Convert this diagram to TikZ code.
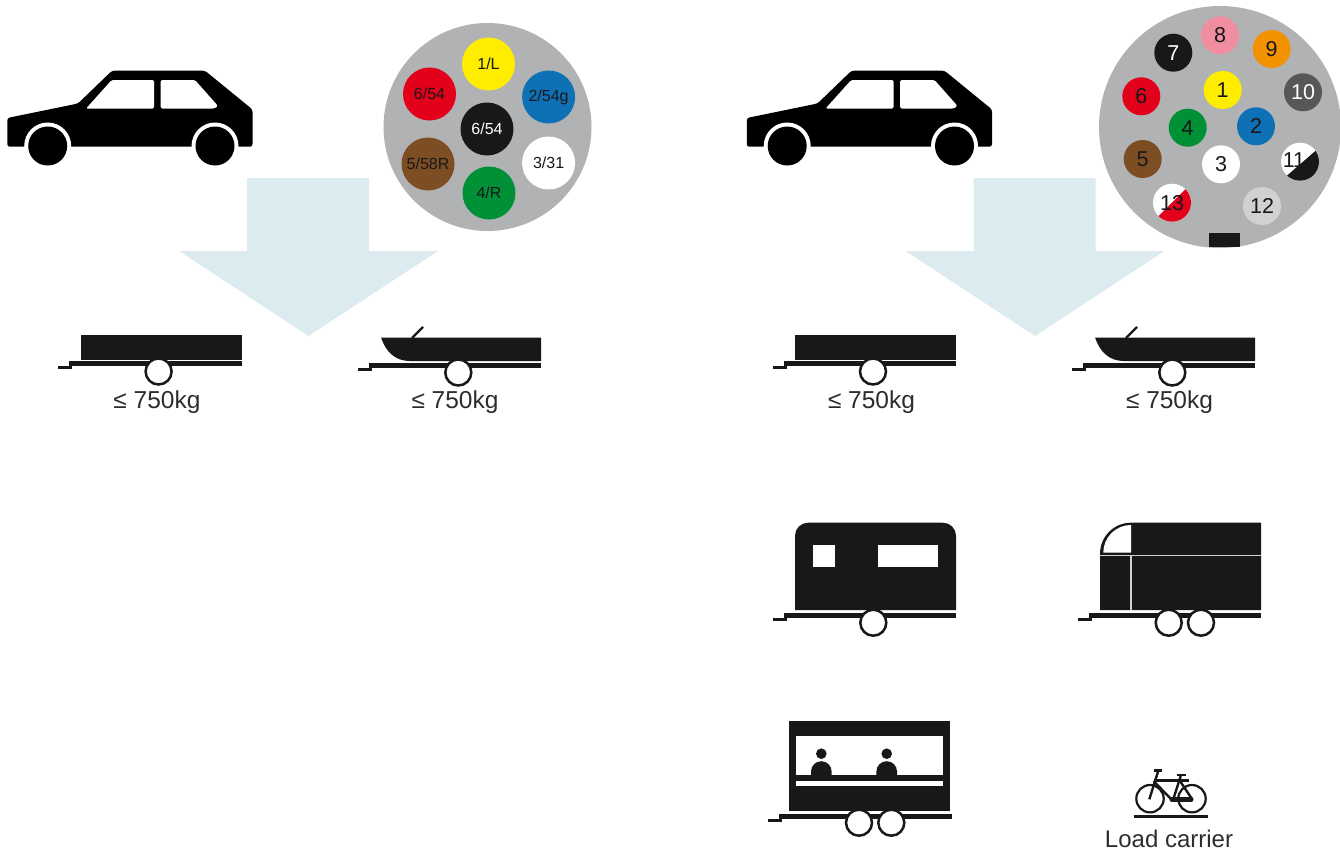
\documentclass[tikz,border=0pt]{standalone}
\usepackage{fontspec}
\setmainfont{Liberation Sans}
\usetikzlibrary{positioning}
\definecolor{myblack}{RGB}{26,23,27}
\definecolor{mytext}{RGB}{45,45,48}
\definecolor{myarrow}{RGB}{220,235,240}
\definecolor{mygrey}{RGB}{177,178,179}
\definecolor{myyellow}{RGB}{255,237,0}
\definecolor{myred}{RGB}{226,0,26}
\definecolor{myblue}{RGB}{15,113,181}
\definecolor{mygreen}{RGB}{0,144,54}
\definecolor{mybrown}{RGB}{125,78,36}
\definecolor{mypink}{RGB}{240,141,160}
\definecolor{myorange}{RGB}{243,146,0}
\definecolor{mydark}{RGB}{87,87,86}
\definecolor{mylight}{RGB}{208,209,211}
\tikzset{
  pinseven/.style={circle, inner sep=0pt, minimum size=53pt, text=myblack,
                   font=\fontsize{16}{18}\selectfont},
  pinthirteen/.style={circle, inner sep=0pt, minimum size=38pt, text=myblack,
                   font=\fontsize{21.5}{24}\selectfont},
  wheel/.style={circle, draw=myblack, fill=white, line width=2.5pt,
                inner sep=0pt, minimum size=26pt},
  weight/.style={text=mytext, inner sep=0pt, font=\fontsize{24.5}{28}\selectfont},
  bikeline/.style={draw=myblack, line width=2.4pt},
  car/.pic={
    \fill[black, rounded corners=2.5pt]
      (7.3,118) -- (78,103.5) -- (112,70.7) -- (205,70.7) -- (252.5,109.5)
      -- (252.5,146.7) -- (7.3,146.7) -- cycle;
    \fill[white, rounded corners=1.5pt]
      (86,108.6) -- (111.7,80) -- (154,80) -- (154,108.6) -- cycle;
    \fill[white, rounded corners=1.5pt]
      (160.7,80) -- (195,80) -- (218,106) -- (214,108.6) -- (160.7,108.6) -- cycle;
    \fill[white] (47.7,146) circle (23.5) (215,146) circle (23.5);
    \fill[black] (47.7,146) circle (19.5) (215,146) circle (19.5);
  },
  bigarrow/.pic={
    \fill[myarrow] (247,178) -- (369,178) -- (369,251) -- (438,251)
      -- (308.5,336) -- (179,251) -- (247,251) -- cycle;
  },
}
% hitch x, top of bar y, end of bar x
\newcommand{\drawchassis}[3]{
  \fill[myblack] (#1,#2+5) rectangle ++(14,3);
  \fill[myblack] (#1+11,#2) rectangle (#1+14,#2+6);
  \fill[myblack] (#1+11,#2) rectangle (#3,#2+5);
}
\begin{document}
\begin{tikzpicture}[x=1pt, y=-1pt]
  \useasboundingbox (0,0) rectangle (1340,851);

  % arrows and cars
  \pic at (0,0) {bigarrow};
  \pic at (726.5,0) {bigarrow};
  \pic at (0,0) {car};
  \pic at (739.5,0) {car};

  % 7 pin plug
  \node[circle, fill=mygrey, inner sep=0pt, minimum size=208pt] (plugseven) at (487.5,127) {};
  \node[pinseven, fill=myyellow] (sL) at (488.5,64) {1/L};
  \node[pinseven, fill=myred] (sa) at (429.5,94) {6/54};
  \node[pinseven, fill=myblue] (sb) at (548.6,97) {2/54g};
  \node[pinseven, fill=myblack, text=white] (sc) at (487,129) {6/54};
  \node[pinseven, fill=mybrown] (sd) at (428,164) {5/58R};
  \node[pinseven, fill=white] (se) at (548.6,163) {3/31};
  \node[pinseven, fill=mygreen] (sf) at (489,193) {4/R};

  % 13 pin plug
  \node[circle, fill=mygrey, inner sep=0pt, minimum size=242pt] (plugthirteen) at (1220,127) {};
  \node[pinthirteen, fill=myyellow] (t1) at (1222.7,90) {1};
  \node[pinthirteen, fill=myblue] (t2) at (1256,126.3) {2};
  \node[pinthirteen, fill=white] (t3) at (1221,164.3) {3};
  \node[pinthirteen, fill=mygreen] (t4) at (1187.7,127.7) {4};
  \node[pinthirteen, fill=mybrown] (t5) at (1142.7,159) {5};
  \node[pinthirteen, fill=myred] (t6) at (1141.3,96.3) {6};
  \node[pinthirteen, fill=myblack, text=white] (t7) at (1173.3,52.7) {7};
  \node[pinthirteen, fill=mypink] (t8) at (1220,35.3) {8};
  \node[pinthirteen, fill=myorange] (t9) at (1271.7,49) {9};
  \node[pinthirteen, fill=mydark, text=white] (t10) at (1303,92.3) {10};
  \node[pinthirteen, fill=white, path picture={
      \fill[myblack] ([xshift=3pt]path picture bounding box.center) ++(30,-26) -- ++(-60,52) -- ++(40,20) -- ++(40,-40) -- cycle;
    }] (t11) at (1300,161.7) {\hspace*{-12pt}\raisebox{3pt}{11}};
  \node[pinthirteen, fill=mylight] (t12) at (1262,206) {12};
  \node[pinthirteen, fill=white, path picture={
      \fill[myred] (path picture bounding box.center) ++(30,-30) -- ++(-60,60) -- ++(40,20) -- ++(40,-40) -- cycle;
    }] (t13) at (1172,202.7) {13};
  \fill[myblack] (1209,233) rectangle (1240,247);

  % flat trailers
  \fill[myblack] (81,335) rectangle (242,360);
  \drawchassis{58}{361}{242}
  \node[wheel] (wa) at (158.6,371.5) {};
  \node[weight] (la) at (157,402.5) {≤ 750kg};

  \fill[myblack] (795,335) rectangle (956,360);
  \drawchassis{773}{361}{956}
  \node[wheel] (wb) at (873,371.5) {};
  \node[weight] (lb) at (871.5,402.5) {≤ 750kg};

  % boat trailers
  \fill[myblack] (381,337.5) .. controls (386,352) and (395,361) .. (410,361) -- (541,361) -- (541,337.5) -- cycle;
  \draw[myblack, line width=2.2pt] (412,338) -- (423,327);
  \drawchassis{358}{363}{541}
  \node[wheel] (wc) at (458.3,372.5) {};
  \node[weight] (lc) at (455,402.5) {≤ 750kg};

  \fill[myblack] (1095,337.5) .. controls (1100,352) and (1109,361) .. (1124,361) -- (1255,361) -- (1255,337.5) -- cycle;
  \draw[myblack, line width=2.2pt] (1126,338) -- (1137,327);
  \drawchassis{1072}{363}{1255}
  \node[wheel] (wd) at (1172.3,372.5) {};
  \node[weight] (ld) at (1169.5,402.5) {≤ 750kg};

  % caravan
  \fill[myblack] (795,610) -- (795,535.7) arc[start angle=180, end angle=270, radius=13]
    -- (943,522.7) arc[start angle=270, end angle=360, radius=13] -- (956,610) -- cycle;
  \fill[white] (813,545) rectangle (835,567);
  \fill[white] (878,545) rectangle (938,567);
  \drawchassis{773}{613}{956}
  \node[wheel] (we) at (873.3,622.7) {};

  % horse box
  \fill[myblack] (1100,610) -- (1100,553.7) arc[start angle=180, end angle=270, radius=31] -- (1261,522.7) -- (1261,610) -- cycle;
  \fill[white] (1131,525) -- (1131,552.7) -- (1103.3,552.7) arc[start angle=180, end angle=270, radius=27.7] -- cycle;
  \draw[mygrey!60, line width=1.4pt] (1100,555.5) -- (1261,555.5);
  \draw[mygrey!60, line width=1.4pt] (1131,555.5) -- (1131,610);
  \drawchassis{1078}{613}{1261}
  \node[wheel] (wf) at (1168.7,622.7) {};
  \node[wheel] (wg) at (1201,622.7) {};

  % sales trailer
  \fill[myblack] (789,721) rectangle (950,811);
  \fill[white] (796,736) rectangle (943,775);
  \fill[white] (796,781) rectangle (943,786);
  \foreach \px in {821.3,886.7} {
    \fill[myblack] (\px,753.7) circle (5.3);
    \fill[myblack] (\px-10.3,775) -- (\px-10.3,771.5) arc[start angle=180, end angle=360, radius=10.3] -- (\px+10.3,775) -- cycle;
  }
  \drawchassis{768}{814}{952}
  \node[wheel] (wh) at (859,822.7) {};
  \node[wheel] (wi) at (891.3,822.7) {};

  % load carrier
  \draw[bikeline, line width=2.2pt] (1150,798.7) circle (13.7);
  \draw[bikeline, line width=2.2pt] (1192,798.7) circle (13.7);
  \draw[bikeline] (1149.3,799.3) -- (1158.3,770.7);
  \draw[bikeline, line width=2.8pt] (1154,770.5) -- (1162,770.5);
  \draw[bikeline, line width=2.6pt] (1153.5,780.5) -- (1189,780.5);
  \draw[bikeline, line width=2.8pt] (1177.3,775) -- (1186,775);
  \draw[bikeline] (1180.7,776) -- (1173,800);
  \draw[bikeline] (1180,781) -- (1192,799);
  \draw[bikeline] (1153.5,781) -- (1172,800);
  \draw[bikeline, line width=5pt, line cap=round] (1172,799.5) -- (1191,799.5);
  \fill[myblack] (1134,815) rectangle (1208,817.7);
  \node[weight, font=\fontsize{24}{26}\selectfont] (carrier) at (1169,838.5) {Load carrier};
\end{tikzpicture}
\end{document}
